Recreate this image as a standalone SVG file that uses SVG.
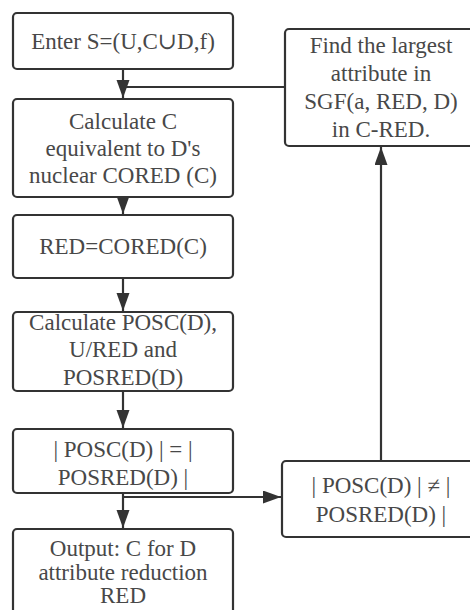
<svg xmlns="http://www.w3.org/2000/svg" width="470" height="610" viewBox="0 0 470 610">
<style>
.box{fill:#fff;stroke:#333;stroke-width:2.2}
.t{font-family:'Liberation Serif','Tinos','Times New Roman','DejaVu Serif',serif;font-size:23px;fill:#484848;text-anchor:middle}
.c{fill:none;stroke:#333;stroke-width:2.2}
</style>
<defs>
<marker id="ah" markerUnits="userSpaceOnUse" markerWidth="20" markerHeight="14" refX="18" refY="6.5" orient="auto">
<path d="M0,0 L18,6.5 L0,13 Z" fill="#333"/>
</marker>
</defs>
<rect width="470" height="610" fill="#fff"/>
<g id="connectors">
<line class="c" x1="123" y1="69" x2="123" y2="98" marker-end="url(#ah)"/>
<line class="c" x1="285" y1="87" x2="123" y2="87"/>
<line class="c" x1="123" y1="197" x2="123" y2="214" marker-end="url(#ah)"/>
<line class="c" x1="123" y1="278" x2="123" y2="311" marker-end="url(#ah)"/>
<line class="c" x1="123" y1="391" x2="123" y2="428" marker-end="url(#ah)"/>
<line class="c" x1="123" y1="493" x2="123" y2="528" marker-end="url(#ah)"/>
<line class="c" x1="123" y1="497" x2="281" y2="497" marker-end="url(#ah)"/>
<line class="c" x1="381" y1="461" x2="381" y2="147" marker-end="url(#ah)"/>
</g>
<g id="enter">
<rect class="box" x="13" y="13" width="220" height="56" rx="4"/>
<text class="t" x="123" y="49">Enter S=(U,C∪D,f)</text>
</g>
<g id="calc-core">
<rect class="box" x="13" y="99" width="220" height="98" rx="4"/>
<text class="t" x="123" y="129">Calculate C</text>
<text class="t" x="123" y="156">equivalent to D's</text>
<text class="t" x="123" y="183">nuclear CORED (C)</text>
</g>
<g id="red">
<rect class="box" x="13" y="215" width="220" height="63" rx="4"/>
<text class="t" x="123" y="254">RED=CORED(C)</text>
</g>
<g id="calc-pos">
<rect class="box" x="13" y="312" width="220" height="79" rx="4"/>
<text class="t" x="123" y="330">Calculate POSC(D),</text>
<text class="t" x="123" y="357">U/RED and</text>
<text class="t" x="123" y="385">POSRED(D)</text>
</g>
<g id="equal">
<rect class="box" x="13" y="429" width="220" height="64" rx="4"/>
<text class="t" x="123" y="457">| POSC(D) | = |</text>
<text class="t" x="123" y="485">POSRED(D) |</text>
</g>
<g id="output">
<rect class="box" x="13" y="529" width="220" height="100" rx="4"/>
<text class="t" x="123" y="556">Output: C for D</text>
<text class="t" x="123" y="580">attribute reduction</text>
<text class="t" x="123" y="603">RED</text>
</g>
<g id="find">
<rect class="box" x="285" y="29" width="195" height="117" rx="4"/>
<text class="t" x="381" y="53">Find the largest</text>
<text class="t" x="381" y="81">attribute in</text>
<text class="t" x="381" y="109">SGF(a, RED, D)</text>
<text class="t" x="381" y="137">in C-RED.</text>
</g>
<g id="notequal">
<rect class="box" x="282" y="461" width="198" height="76" rx="4"/>
<text class="t" x="381" y="493">| POSC(D) | ≠ |</text>
<text class="t" x="381" y="522">POSRED(D) |</text>
</g>
</svg>
